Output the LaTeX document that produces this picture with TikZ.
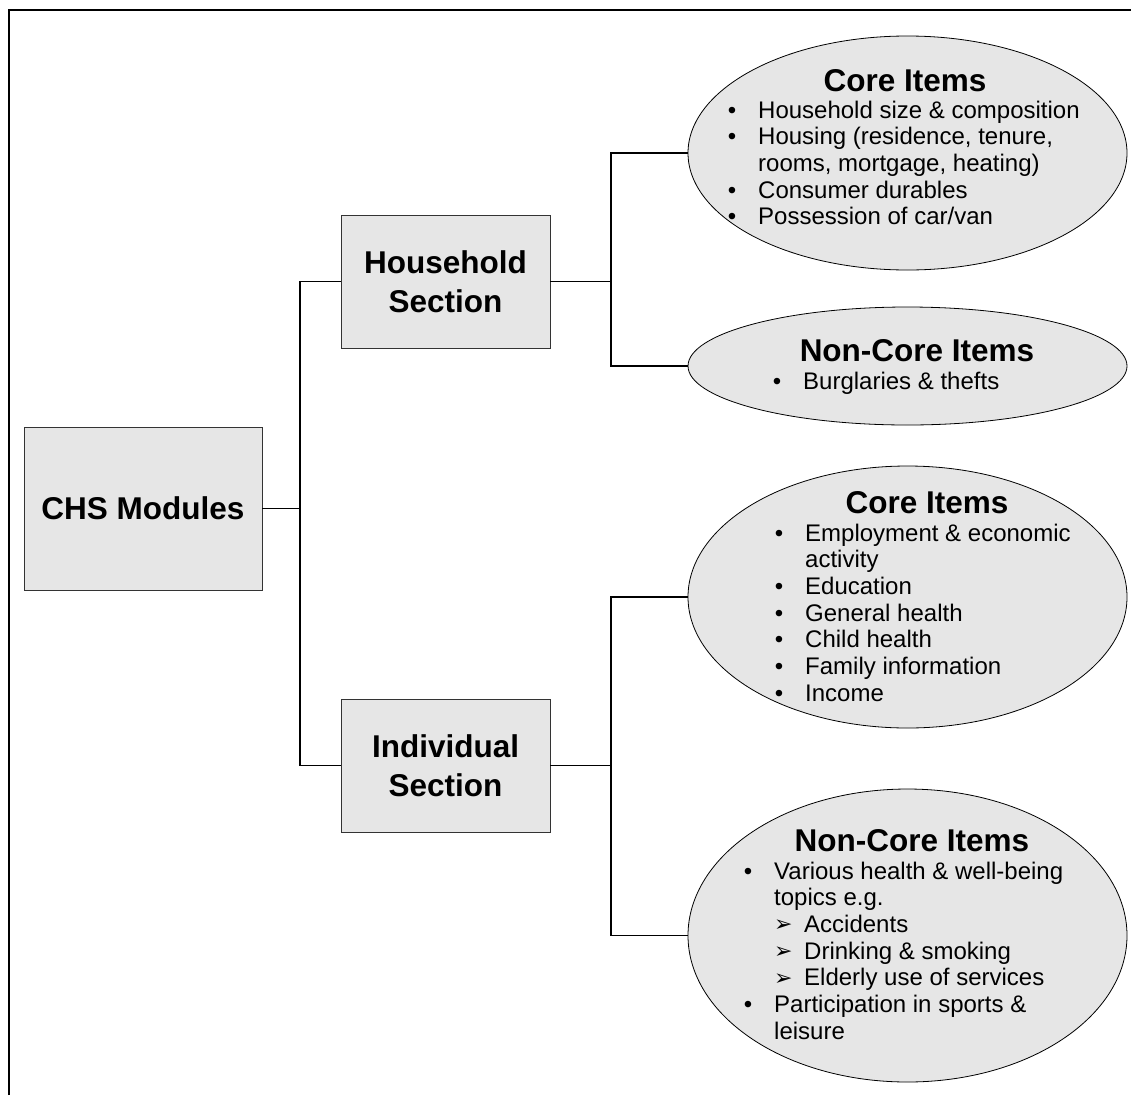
\documentclass[tikz,border=0pt]{standalone}
\usepackage{fontspec}
\setmainfont{Liberation Sans}
\newfontfamily\symfont{DejaVu Sans}
\usetikzlibrary{shapes.geometric}
\definecolor{boxgray}{HTML}{E6E6E6}
\newcommand{\bul}{\llap{\textbullet\hspace{22pt}}}
\newcommand{\arr}{\makebox[30pt][l]{\raisebox{0.5pt}{\symfont\fontsize{22}{22}\selectfont ➢}}}

\begin{document}
\begin{tikzpicture}[x=1pt,y=-1pt,
	box/.style={draw=black!80,line width=0.8pt,fill=boxgray,inner sep=0pt,align=center,font=\fontsize{31.5}{39}\selectfont\bfseries},
	oval/.style={ellipse,draw,line width=0.8pt,fill=boxgray,inner sep=0pt,minimum width=439pt},
	head/.style={anchor=base,inner sep=0pt,font=\fontsize{31.5}{38}\selectfont\bfseries},
	items/.style={anchor=base west,inner sep=0pt,font=\fontsize{24}{26.7}\selectfont},
	link/.style={line width=1.6pt}]
			\useasboundingbox (0,0) rectangle (1131,1095);
			\draw[line width=1.5pt] (9,1095) -- (9,10) -- (1131,10);
			\node[box,minimum width=238pt,minimum height=163pt] (chs) at (143,508.5) {CHS Modules};
			\node[box,minimum width=209pt,minimum height=133pt] (hh) at (445.5,281.5) {Household\\Section};
			\node[box,minimum width=209pt,minimum height=133pt] (ind) at (445.5,765.5) {Individual\\Section};
			\node[oval,minimum height=234pt] (core1) at (907.5,153) {};
			\node[oval,minimum height=118pt] (non1) at (907.5,366) {};
			\node[oval,minimum height=262pt] (core2) at (907.5,597) {};
			\node[oval,minimum height=293pt] (non2) at (907.5,935.5) {};
			\coordinate (j0) at (300,508.5);
			\coordinate (j1) at (611,281.5);
			\coordinate (j2) at (611,765.5);
			\draw[link] (chs) -- (j0);
			\draw[link] (hh.west) -| (j0) |- (ind.west);
			\draw[link] (hh) -- (j1);
			\draw[link] (core1.west) -| (j1) |- (non1.west);
			\draw[link] (ind) -- (j2);
			\draw[link] (core2.west) -| (j2) |- (non2.west);
			\node[head] (t1) at (905,91) {Core Items};
			\node[items] (l1) at (758,118) {\begin{tabular}[t]{@{}l@{}}
				\bul Household size \& composition\\
				\bul Housing (residence, tenure,\\
				rooms, mortgage, heating)\\
				\bul Consumer durables\\
				\bul Possession of car/van
			\end{tabular}};
			\node[head] (t2) at (917,361) {Non-Core Items};
			\node[items] (l2) at (803,389) {\bul Burglaries \& thefts};
			\node[head] (t3) at (927,513) {Core Items};
			\node[items] (l3) at (805,541) {\begin{tabular}[t]{@{}l@{}}
				\bul Employment \& economic\\
				activity\\
				\bul Education\\
				\bul General health\\
				\bul Child health\\
				\bul Family information\\
				\bul Income
			\end{tabular}};
			\node[head] (t4) at (912,851) {Non-Core Items};
			\node[items] (l4) at (774,879) {\begin{tabular}[t]{@{}l@{}}
				\bul Various health \& well-being\\
				topics e.g.\\
				\arr Accidents\\
				\arr Drinking \& smoking\\
				\arr Elderly use of services\\
				\bul Participation in sports \&\\
				leisure
			\end{tabular}};
		\end{tikzpicture}
\end{document}
